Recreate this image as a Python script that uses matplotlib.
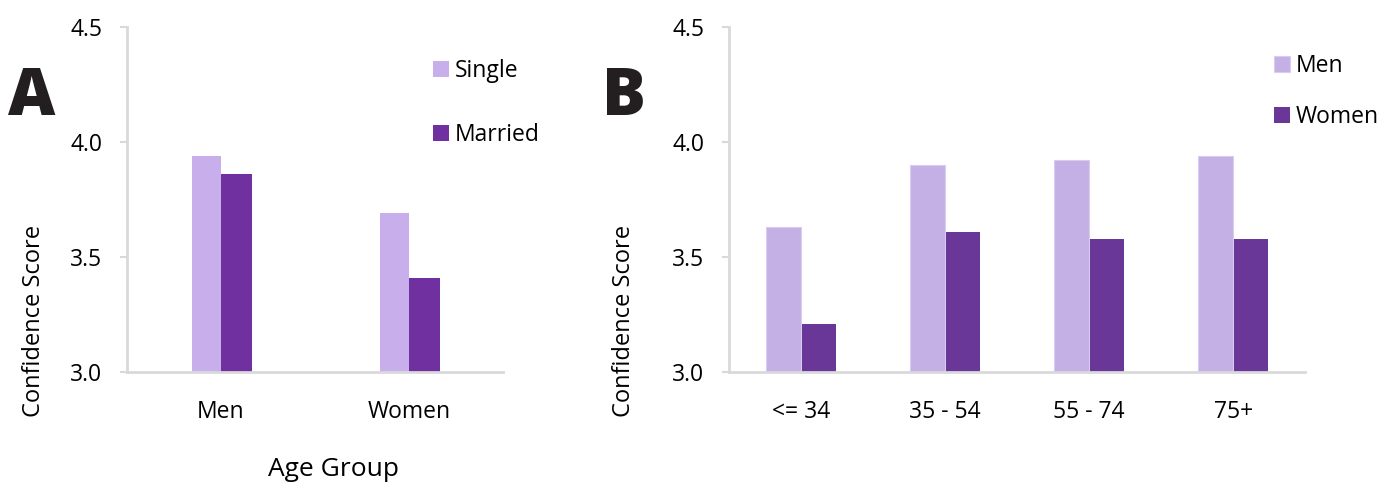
import matplotlib.pyplot as plt
import numpy as np

plt.rcParams['font.family'] = ['Open Sans', 'DejaVu Sans']

# Panel A: marital status by gender
grupos_a = ['Men', 'Women']
single = [3.94, 3.69]
married = [3.86, 3.41]

# Panel B: age groups by gender
grupos_b = ['<= 34', '35 - 54', '55 - 74', '75+']
men = [3.63, 3.90, 3.92, 3.94]
women = [3.21, 3.61, 3.58, 3.58]

yticks = [3.0, 3.5, 4.0, 4.5]
gris = '#D9D9D9'


def estilo_eje(ax, n, xlab):
    ax.set_ylim(3.0, 4.5)
    ax.set_xlim(-0.5, n - 0.5)
    ax.set_yticks(yticks)
    ax.set_yticklabels([f'{t:.1f}' for t in yticks])
    for lado in ['top', 'right']:
        ax.spines[lado].set_visible(False)
    for lado in ['left', 'bottom']:
        ax.spines[lado].set_color(gris)
        ax.spines[lado].set_linewidth(2)
    ax.tick_params(axis='y', length=5, width=1.5, color=gris,
                   labelsize=16.5, pad=13)
    ax.tick_params(axis='x', length=0, labelsize=16.5, pad=20)
    ax.set_ylabel('Confidence Score', fontsize=17)
    # etiqueta desplazada hacia abajo como en el original
    ax.yaxis.set_label_coords(xlab, 0.148)


fig = plt.figure(figsize=(13.9, 4.82), dpi=100)
ax_a = fig.add_axes([0.0914, 0.228, 0.2705, 0.716])
ax_b = fig.add_axes([0.5245, 0.228, 0.4145, 0.716])

# A
x = np.arange(len(grupos_a))
w = 0.155
ax_a.bar(x - w / 2, single, w, color='#C8AEEB', label='Single')
ax_a.bar(x + w / 2 + 0.005, married, w + 0.01, color='#7030A0', label='Married')
estilo_eje(ax_a, len(grupos_a), -0.215)
ax_a.set_xticks(x)
ax_a.set_xticklabels(grupos_a)
ax_a.set_xlabel('Age Group', fontsize=19)
ax_a.xaxis.set_label_coords(0.548, -0.245)
ax_a.legend(loc='upper left', bbox_to_anchor=(0.783, 0.94), frameon=False,
            fontsize=16.5, handlelength=0.7, handleheight=0.7,
            handletextpad=0.25, labelspacing=1.75, borderpad=0)

# B
x = np.arange(len(grupos_b))
w = 0.245
ax_b.bar(x - w / 2, men, w, color='#C5B0E6', edgecolor='#D8CCF0',
         linewidth=0.8, label='Men')
ax_b.bar(x + w / 2, women, w - 0.01, color='#693797', label='Women')
estilo_eje(ax_b, len(grupos_b), -0.161)
ax_b.set_xticks(x)
ax_b.set_xticklabels(grupos_b)
ax_b.legend(loc='upper left', bbox_to_anchor=(0.926, 0.956), frameon=False,
            fontsize=16.5, handlelength=0.7, handleheight=0.7,
            handletextpad=0.25, labelspacing=1.2, borderpad=0)

# Letras de panel
fig.text(0.006, 0.761, 'A', fontsize=47, fontweight='black', color='#231F20')
fig.text(0.433, 0.761, 'B', fontsize=47, fontweight='black', color='#231F20')

fig.savefig('out.png', dpi=100)
plt.close(fig)
